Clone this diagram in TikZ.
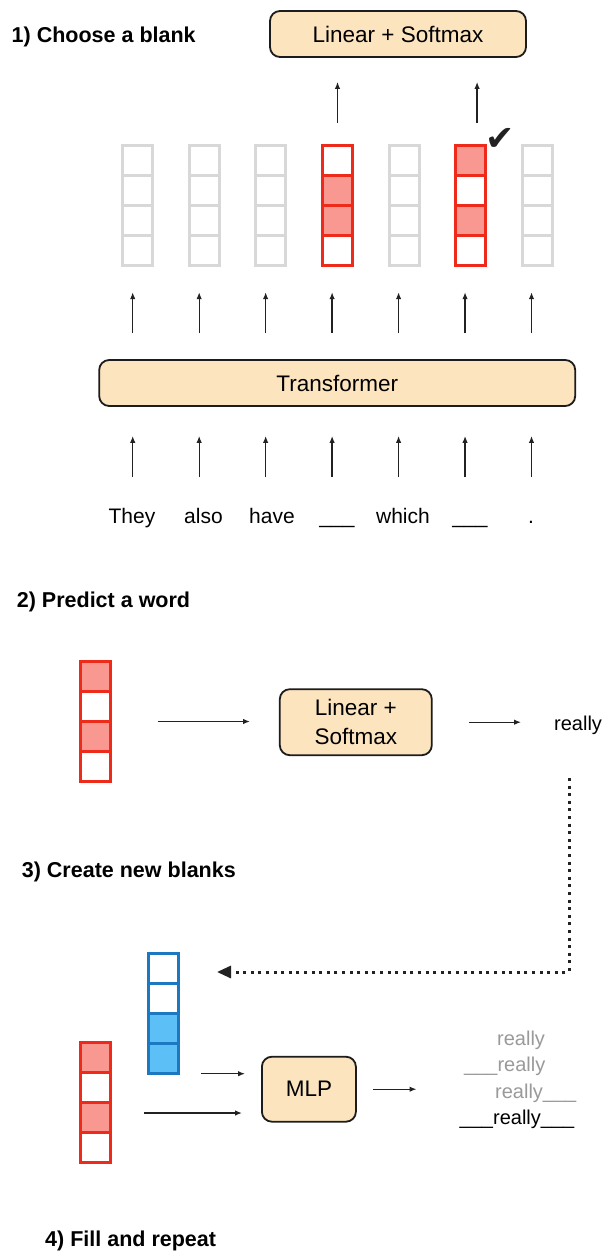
\documentclass[tikz,border=0pt]{standalone}
\usepackage{fontspec}
\setmainfont{Liberation Sans}
\newfontfamily\tickfont{DejaVu Sans}
\usetikzlibrary{arrows.meta}

\definecolor{boxfill}{HTML}{FCE4BF}
\definecolor{boxline}{HTML}{1C1C1C}
\definecolor{redline}{HTML}{EE2A1A}
\definecolor{redfill}{HTML}{F99890}
\definecolor{greyline}{HTML}{D8D8D8}
\definecolor{blueline}{HTML}{1D78C2}
\definecolor{bluefill}{HTML}{5CBFF5}
\definecolor{arrowcol}{HTML}{222222}
\definecolor{greytext}{HTML}{9A9A9A}

\newcommand\hdfont{\fontsize{21.5}{26}\selectfont\bfseries}
\newcommand\bxfont{\fontsize{22.5}{29}\selectfont}
\newcommand\wdfont{\fontsize{21}{25}\selectfont}
\newcommand\lnfont{\fontsize{20}{24}\selectfont}

% A vertical stack of four cells: name, x centre, top y, line colour, fill colour, fill flags
\newcommand\cellcolumn[6]{%
  \foreach \f [count=\k from 0] in {#6} {
    \ifnum\f=1 \def\cellfill{#5}\else\def\cellfill{white}\fi
    \draw[cellframe, draw=#4, fill=\cellfill] (#2-15,#3+30*\k) rectangle (#2+15,#3+30*\k+30);
  }
  \node[inner sep=0pt, minimum width=30pt, minimum height=120pt] (#1) at (#2,#3+60) {};
}

\begin{document}
\begin{tikzpicture}[x=1pt,y=-1pt,
  conn/.style={-{Latex[length=7pt,width=5.5pt]}, line width=1.3pt, draw=arrowcol},
  blockbox/.style={draw=boxline, fill=boxfill, line width=1.8pt, rounded corners=10pt,
    font=\bxfont, align=center, inner sep=0pt},
  heading/.style={anchor=base west, inner sep=0pt, font=\hdfont},
  word/.style={anchor=base, inner sep=0pt, font=\wdfont},
  cellframe/.style={line width=3pt},
  loopline/.style={line width=3pt, dash pattern=on 3pt off 4.6pt, draw=arrowcol,
    -{Triangle[length=14pt,width=12pt]}}
]
\fill[white] (0,0) rectangle (602,1252);
\useasboundingbox (0,0) rectangle (602,1252);

% ---------- 1) Choose a blank ----------
\node[heading] (h1) at (11.5,43) {1) Choose a blank};
\node[blockbox, minimum width=256pt, minimum height=46pt] (lsm1) at (398,34) {Linear + Softmax};

\cellcolumn{c1}{137.8}{145.5}{greyline}{white}{0,0,0,0}
\cellcolumn{c2}{204.4}{145.5}{greyline}{white}{0,0,0,0}
\cellcolumn{c3}{270.9}{145.5}{greyline}{white}{0,0,0,0}
\cellcolumn{c4}{337.5}{145.5}{redline}{redfill}{0,1,1,0}
\cellcolumn{c5}{404.0}{145.5}{greyline}{white}{0,0,0,0}
\cellcolumn{c6}{470.6}{145.5}{redline}{redfill}{1,0,1,0}
\cellcolumn{c7}{537.1}{145.5}{greyline}{white}{0,0,0,0}

\node[font=\tickfont\fontsize{35}{35}\selectfont, text=arrowcol, inner sep=0pt] (tick) at (500.5,139) {✔};

\draw[conn, shorten <=22.5pt, shorten >=24pt] (c4.north) -- (c4.north |- lsm1.south);
\draw[conn, shorten <=22.5pt, shorten >=24pt] ([xshift=6.5pt]c6.north) -- ([xshift=6.5pt]c6.north |- lsm1.south);

\node[blockbox, minimum width=476pt, minimum height=46pt] (tf) at (337.2,383) {Transformer};

\foreach \i in {1,...,7} {
  \pgfmathsetmacro\ax{132.7+66.47*(\i-1)}
  \coordinate (tout\i) at (\ax,359);
  \coordinate (tin\i) at (\ax,477);
  \draw[conn, shorten <=26pt, shorten >=26.5pt] (tout\i) -- (tout\i |- c\i.south);
  \draw[conn, shorten >=29pt] (tin\i) -- (tin\i |- tf.south);
}

\node[word] (w1) at (132,523) {They};
\node[word] (w2) at (203.5,523) {also};
\node[word] (w3) at (272,523) {have};
\node[word] (w4) at (337,523) {\_\_\_};
\node[word] (w5) at (403,523) {which};
\node[word] (w6) at (470,523) {\_\_\_};
\node[word] (w7) at (531,523) {.};

% ---------- 2) Predict a word ----------
\node[heading] (h2) at (16.7,607) {2) Predict a word};

\cellcolumn{rc2}{95.3}{661.5}{redline}{redfill}{1,0,1,0}
\node[blockbox, minimum width=152pt, minimum height=66pt] (lsm2) at (355.8,722.2) {Linear +\\Softmax};
\node[anchor=base west, inner sep=0pt, font=\lnfont] (really) at (554,730) {really};

\draw[conn, shorten <=47.7pt, shorten >=28.9pt] (rc2.east) -- (rc2.east -| lsm2.west);
\draw[conn, shorten <=36.3pt, shorten >=33pt] (lsm2.east) -- (lsm2.east -| really.west);

% ---------- 3) Create new blanks ----------
\node[heading] (h3) at (21.7,877) {3) Create new blanks};

\coordinate (loopstart) at (569,778);
\coordinate (looptip) at (217,972);
\draw[loopline] (loopstart) |- (looptip);

\cellcolumn{bc}{163.5}{953.5}{blueline}{bluefill}{0,0,1,1}
\cellcolumn{rc3}{95.3}{1042.5}{redline}{redfill}{1,0,1,0}
\node[blockbox, minimum width=94pt, minimum height=65pt] (mlp) at (308.9,1089.2) {MLP};

\node[anchor=base west, inner sep=0pt, font=\lnfont, text=greytext] (l1) at (497,1045) {really};
\node[anchor=base east, inner sep=0pt, font=\lnfont, text=greytext] (l2) at (545.5,1071.7) {\_\_\_really};
\node[anchor=base west, inner sep=0pt, font=\lnfont, text=greytext] (l3) at (495,1098) {really\_\_\_};
\node[anchor=base, inner sep=0pt, font=\lnfont, text=black] (l4) at (517,1124) {\_\_\_really\_\_\_};

\draw[conn, shorten <=22.5pt, shorten >=16pt] (bc.south east) -- (bc.south east -| mlp.west);
\draw[conn, shorten <=33.7pt, shorten >=19pt] ([yshift=-10.5pt]rc3.east) -- ([yshift=-10.5pt]rc3.east -| mlp.west);
\draw[conn, shorten <=16.2pt, shorten >=43pt] (mlp.east) -- (mlp.east -| l4.west);

% ---------- 4) Fill and repeat ----------
\node[heading] (h4) at (45,1246) {4) Fill and repeat};
\end{tikzpicture}
\end{document}
